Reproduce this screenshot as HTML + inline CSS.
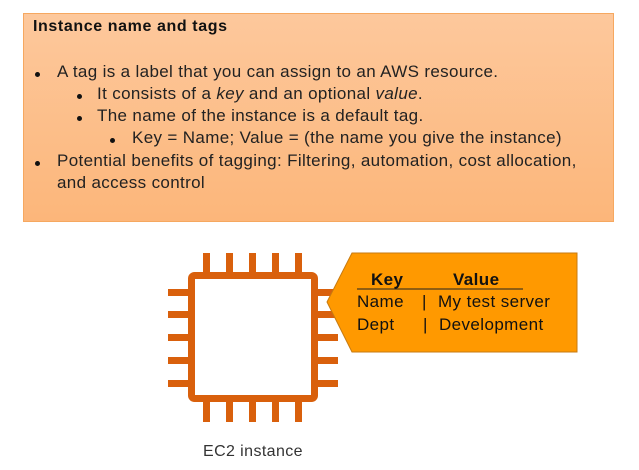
<!DOCTYPE html>
<html><head><style>
body{margin:0;width:639px;height:470px;background:#fff;position:relative;font-family:"Liberation Sans",sans-serif;overflow:hidden}
.box{position:absolute;left:23px;top:13px;width:589px;height:207px;border:1px solid #f6a860;background:linear-gradient(#fdc89c,#fcb67a)}
.t{position:absolute;white-space:nowrap;font-size:17px;letter-spacing:0.35px;color:#222}
.d{position:absolute;width:5px;height:5px;border-radius:50%;background:#111}
</style></head><body>
<div class="box"></div>
<div class="t" style="left:33px;top:18px;font-size:16px;letter-spacing:0.6px;font-weight:bold;color:#111">Instance name and tags</div>
<div class="d" style="left:35px;top:72px"></div><div class="t" style="left:57px;top:62px">A tag is a label that you can assign to an AWS resource.</div>
<div class="d" style="left:77px;top:94px"></div><div class="t" style="left:97px;top:84px">It consists of a <i>key</i> and an optional <i>value</i>.</div>
<div class="d" style="left:77px;top:116px"></div><div class="t" style="left:97px;top:106px">The name of the instance is a default tag.</div>
<div class="d" style="left:110px;top:138px"></div><div class="t" style="left:132px;top:128px">Key = Name; Value = (the name you give the instance)</div>
<div class="d" style="left:35px;top:161px"></div><div class="t" style="left:57px;top:151px">Potential benefits of tagging: Filtering, automation, cost allocation,</div>
<div class="t" style="left:57px;top:173px">and access control</div>
<svg style="position:absolute;left:0;top:0" width="639" height="470">
<g fill="#d9600c">
<rect x="203" y="253" width="7" height="20"/><rect x="226" y="253" width="7" height="20"/><rect x="249" y="253" width="7" height="20"/><rect x="272" y="253" width="7" height="20"/><rect x="295" y="253" width="7" height="20"/>
<rect x="203" y="401" width="7" height="21"/><rect x="226" y="401" width="7" height="21"/><rect x="249" y="401" width="7" height="21"/><rect x="272" y="401" width="7" height="21"/><rect x="295" y="401" width="7" height="21"/>
<rect x="168" y="289" width="21" height="7"/><rect x="168" y="311" width="21" height="7"/><rect x="168" y="334" width="21" height="7"/><rect x="168" y="357" width="21" height="7"/><rect x="168" y="380" width="21" height="7"/>
<rect x="317" y="289" width="21" height="7"/><rect x="317" y="311" width="21" height="7"/><rect x="317" y="334" width="21" height="7"/><rect x="317" y="357" width="21" height="7"/><rect x="317" y="380" width="21" height="7"/>
</g>
<rect x="191.5" y="275.5" width="123" height="123" rx="3" fill="#fff" stroke="#d9600c" stroke-width="7"/>
<polygon points="352,253 577,253 577,352 352,352 327,302" fill="#ff9900" stroke="#c77a10" stroke-width="1"/>
<line x1="357" y1="289" x2="523" y2="289" stroke="#222" stroke-width="1"/>
<g font-family="Liberation Sans,sans-serif" font-size="17" letter-spacing="0.4" fill="#111">
<text x="371" y="285" font-weight="bold">Key</text><text x="453" y="285" font-weight="bold">Value</text>
<text x="357" y="307">Name</text><text x="422" y="307">|</text><text x="438" y="307">My test server</text>
<text x="357" y="330">Dept</text><text x="423" y="330">|</text><text x="439" y="330">Development</text>
</g>
<text x="253" y="456" text-anchor="middle" font-family="Liberation Sans,sans-serif" font-size="16" letter-spacing="0.4" fill="#333">EC2 instance</text>
</svg>
</body></html>
